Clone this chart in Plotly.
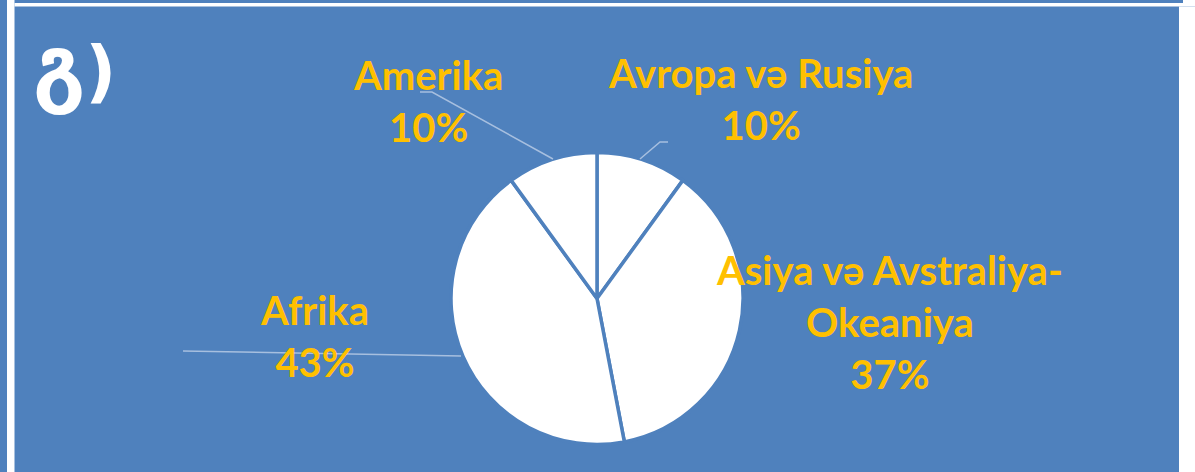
import plotly.graph_objects as go

# Data
regions = ["Avropa və Rusiya", "Asiya və Avstraliya-Okeaniya", "Afrika", "Amerika"]
shares = [10, 37, 43, 10]
label_texts = ["Avropa və Rusiya<br>10%", "Asiya və Avstraliya-<br>Okeaniya<br>37%",
               "Afrika<br>43%", "Amerika<br>10%"]
title_letter = "გ"
title_paren = ")"

W, H = 1195, 472
BLUE = "#4F81BD"
GOLD = "#FFC000"
LEADER = "#A7BFDF"

def px(x):
    return x / W

def py(y):
    return 1 - y / H

cx, cy, r = 597, 298.5, 146

fig = go.Figure()
fig.add_trace(go.Pie(
    labels=regions, values=shares, sort=False, direction="clockwise", rotation=0,
    textinfo="none", hoverinfo="label+percent", showlegend=False,
    marker=dict(colors=["#FFFFFF"] * len(shares), line=dict(color=BLUE, width=3.5)),
    domain=dict(x=[px(cx - r), px(cx + r)], y=[py(cy + r), py(cy - r)]),
))

# label positions (pixel centres)
label_pos = [(760, 99), (890, 322), (314, 336), (428, 101)]
for t, (x, y) in zip(label_texts, label_pos):
    fig.add_annotation(text=f"<b>{t}</b>", x=px(x), y=py(y), xref="paper", yref="paper",
                       xanchor="center", yanchor="middle", showarrow=False,
                       font=dict(family="Lato, Open Sans, sans-serif", size=40, color=GOLD))

title_html = (f"<b><span style='font-size:84px'>{title_letter}</span>"
              f"<span style='font-size:68px'>{title_paren}</span></b>")
fig.add_annotation(text=title_html, x=px(31), y=py(66), xref="paper", yref="paper",
                   xanchor="left", yanchor="middle", showarrow=False,
                   font=dict(family="DejaVu Sans, sans-serif", size=68, color="white"))

def path(points):
    return "M " + " L ".join(f"{px(x)},{py(y)}" for x, y in points)

shapes = []
# frame
shapes.append(dict(type="rect", xref="paper", yref="paper", x0=px(7), x1=px(14.5), y0=0, y1=1,
                   fillcolor="white", line_width=0, layer="below"))
shapes.append(dict(type="rect", xref="paper", yref="paper", x0=px(14.5), x1=px(1183), y0=py(6.5), y1=py(3),
                   fillcolor="white", line_width=0, layer="below"))
shapes.append(dict(type="rect", xref="paper", yref="paper", x0=px(1179), x1=1, y0=0, y1=py(6.5),
                   fillcolor="white", line_width=0, layer="below"))
shapes.append(dict(type="rect", xref="paper", yref="paper", x0=px(1183), x1=1, y0=py(6.5), y1=1,
                   fillcolor="white", line_width=0, layer="below"))
# leader lines
for pts in [[(420, 92), (432, 92), (553, 159)],
            [(668, 142), (660, 142), (640, 159)],
            [(183, 351), (461, 356)]]:
    shapes.append(dict(type="path", xref="paper", yref="paper", path=path(pts),
                       line=dict(color=LEADER, width=1.5)))

fig.update_layout(width=W, height=H, margin=dict(l=0, r=0, t=0, b=0),
                  paper_bgcolor=BLUE, plot_bgcolor=BLUE, shapes=shapes)
fig.write_html("out.html", config={"displayModeBar": False},
               post_script="document.body.style.margin='0';document.body.style.overflow='hidden';")
